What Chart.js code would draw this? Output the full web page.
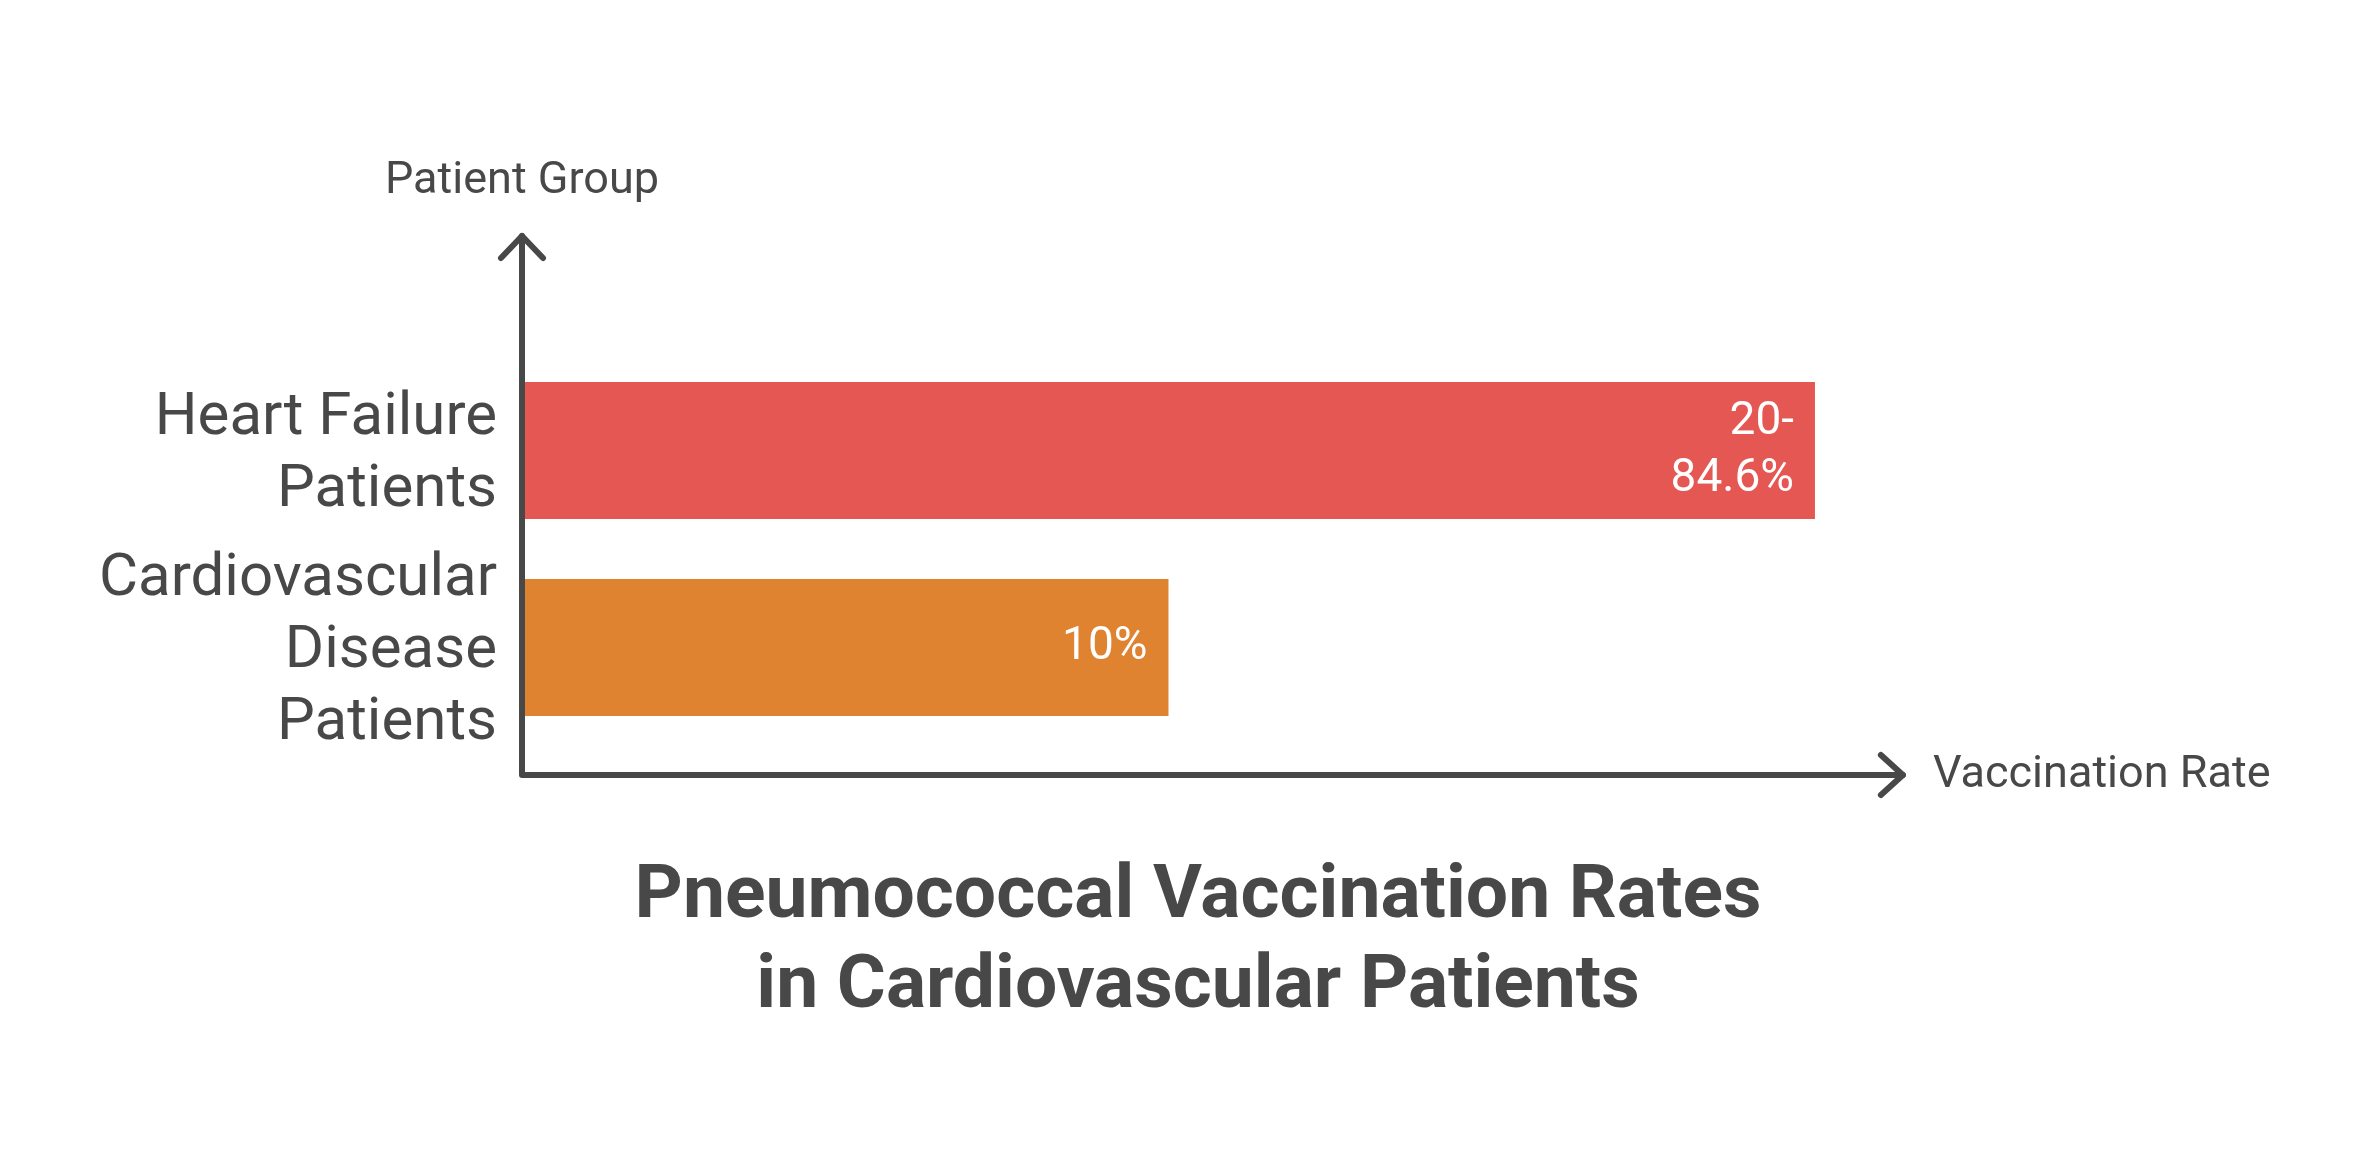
<!DOCTYPE html>
<html>
<head>
<meta charset="utf-8">
<script src="https://cdn.jsdelivr.net/npm/chart.js@4"></script>
<style>
  html, body { margin: 0; padding: 0; background: #ffffff; }
  #wrap { width: 2358px; height: 1170px; position: relative; }
</style>
</head>
<body>
<div id="wrap"><canvas id="c"></canvas></div>
<script>
// ---- data ----
const categories = [["Heart Failure", "Patients"], ["Cardiovascular", "Disease", "Patients"]];
const vaccinationRates = [20, 10];
const barLabels = [["20-", "84.6%"], ["10%"]];
const barColors = ["#E55753", "#DF8330"];
const xScaleMax = 28.4;
const xAxisEnd = 21.36;
const yAxisTitle = "Patient Group";
const xAxisTitle = "Vaccination Rate";
const chartTitle = ["Pneumococcal Vaccination Rates", "in Cardiovascular Patients"];

const axisColor = "#484848";
const textColor = "#484848";

const decorPlugin = {
  id: "decor",
  afterDatasetsDraw(chart) {
    const ctx = chart.ctx;
    const ca = chart.chartArea;
    const xAxisY = ca.bottom + 29;
    const yTop = ca.top - 116;
    const left = ca.left;
    const right = chart.scales.x.getPixelForValue(xAxisEnd);
    ctx.save();
    // bar labels
    const meta = chart.getDatasetMeta(0);
    ctx.fillStyle = "#ffffff";
    ctx.font = "46px Roboto";
    ctx.textAlign = "right";
    ctx.textBaseline = "middle";
    meta.data.forEach((bar, i) => {
      const lines = barLabels[i];
      const lh = 57;
      const startY = bar.y - (lines.length - 1) * lh / 2;
      lines.forEach((t, j) => ctx.fillText(t, bar.x - 21, startY + j * lh));
    });
    // axes
    ctx.strokeStyle = axisColor;
    ctx.lineWidth = 6;
    ctx.lineCap = "round";
    ctx.lineJoin = "round";
    ctx.beginPath();
    ctx.moveTo(left, yTop);
    ctx.lineTo(left, xAxisY);
    ctx.lineTo(right, xAxisY);
    ctx.stroke();
    // y arrow head
    ctx.beginPath();
    ctx.moveTo(left - 21, yTop + 22);
    ctx.lineTo(left, yTop);
    ctx.lineTo(left + 21, yTop + 22);
    ctx.stroke();
    // x arrow head
    ctx.beginPath();
    ctx.moveTo(right - 22, xAxisY - 20);
    ctx.lineTo(right, xAxisY);
    ctx.lineTo(right - 22, xAxisY + 20);
    ctx.stroke();
    // axis titles
    ctx.fillStyle = textColor;
    ctx.textBaseline = "middle";
    ctx.font = "45px Roboto";
    ctx.textAlign = "center";
    ctx.fillText(yAxisTitle, left, yTop - 54);
    ctx.textAlign = "left";
    ctx.fillText(xAxisTitle, right + 30, xAxisY + 1);
    ctx.restore();
  }
};

new Chart(document.getElementById("c"), {
  type: "bar",
  data: {
    labels: categories,
    datasets: [{
      data: vaccinationRates,
      backgroundColor: barColors,
      borderWidth: 0,
      barPercentage: 0.695,
      categoryPercentage: 1.0
    }]
  },
  options: {
    indexAxis: "y",
    responsive: true,
    maintainAspectRatio: false,
    devicePixelRatio: 1,
    animation: false,
    layout: { padding: { top: 352, right: 0, left: 38, bottom: 0 } },
    scales: {
      x: {
        display: false,
        min: 0,
        max: xScaleMax
      },
      y: {
        grid: { display: false, drawTicks: false },
        border: { display: false },
        ticks: {
          autoSkip: false,
          color: textColor,
          font: { family: "Roboto", size: 60, lineHeight: 1.2 },
          padding: 25,
          labelOffset: 4
        },
        afterFit(scale) { scale.width = 484; }
      }
    },
    plugins: {
      legend: { display: false },
      tooltip: { enabled: false },
      title: {
        display: true,
        position: "bottom",
        text: chartTitle,
        color: textColor,
        font: { family: "Roboto", size: 75, weight: "bold", lineHeight: 90 / 75 },
        padding: { top: 107, bottom: 137 }
      }
    }
  },
  plugins: [decorPlugin]
});
</script>
</body>
</html>
